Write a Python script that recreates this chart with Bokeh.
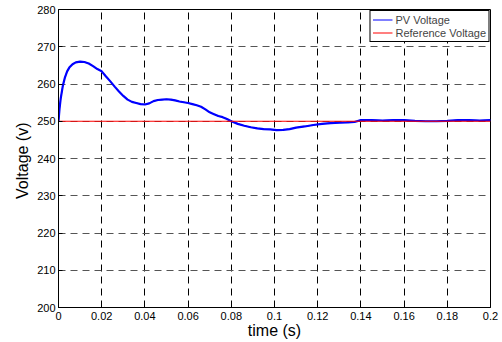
from bokeh.plotting import figure
from bokeh.models import FixedTicker, Legend, LegendItem, Range1d
from bokeh.embed import file_html
from bokeh.resources import INLINE

# time (s)
t = [0, 0.0005, 0.001, 0.002, 0.003, 0.004, 0.005, 0.0065, 0.008, 0.010,
     0.012, 0.014, 0.016, 0.018, 0.020, 0.022, 0.024, 0.026, 0.028, 0.030,
     0.032, 0.034, 0.036, 0.038, 0.040, 0.042, 0.044, 0.046, 0.048, 0.050,
     0.052, 0.054, 0.056, 0.058, 0.060, 0.062, 0.064, 0.066, 0.068, 0.070,
     0.072, 0.074, 0.076, 0.078, 0.080, 0.083, 0.086, 0.089, 0.092, 0.095,
     0.098, 0.101, 0.104, 0.107, 0.110, 0.114, 0.118, 0.122, 0.126, 0.130,
     0.134, 0.137, 0.140, 0.145, 0.150, 0.155, 0.160, 0.165, 0.170, 0.175,
     0.180, 0.185, 0.190, 0.195, 0.200]
# PV voltage (V)
pv_voltage = [250, 253.5, 256, 259.5, 261.8, 263.4, 264.4, 265.3, 265.8, 266,
              265.9, 265.5, 264.8, 264, 263.4, 262, 260.7, 259.3, 258, 256.8,
              255.8, 255.2, 254.9, 254.6, 254.5, 254.8, 255.4, 255.7, 255.8, 255.9,
              255.8, 255.6, 255.3, 255.1, 254.9, 254.6, 254.3, 253.9, 253.2, 252.4,
              251.9, 251.4, 251.1, 250.6, 250.0, 249.3, 248.8, 248.4, 248.1, 247.9,
              247.8, 247.6, 247.7, 247.9, 248.3, 248.6, 249.0, 249.3, 249.5, 249.6,
              249.7, 249.8, 250.3, 250.3, 250.2, 250.3, 250.3, 250.1, 250.0, 250.0,
              250.1, 250.3, 250.3, 250.2, 250.3]
ref_t = [0, 0.2]
ref_voltage = [250, 250]

x_ticks = [0, 0.02, 0.04, 0.06, 0.08, 0.1, 0.12, 0.14, 0.16, 0.18, 0.2]
x_tick_labels = ["0", "0.02", "0.04", "0.06", "0.08", "0.1", "0.12", "0.14", "0.16", "0.18", "0.2"]
y_ticks = [200, 210, 220, 230, 240, 250, 260, 270, 280]

FONT = "Liberation Sans"

p = figure(width=502, height=342, output_backend="svg", toolbar_location=None,
           x_range=Range1d(0, 0.2), y_range=Range1d(200, 280),
           min_border_left=58, min_border_right=12, min_border_top=9, min_border_bottom=35)
p.background_fill_color = "white"
p.border_fill_color = "white"
p.outline_line_color = "black"
p.outline_line_width = 1

p.xaxis.ticker = FixedTicker(ticks=x_ticks)
p.xaxis.major_label_overrides = {tk: lb for tk, lb in zip(x_ticks, x_tick_labels)}
p.yaxis.ticker = FixedTicker(ticks=y_ticks)

for ax in (p.xaxis[0], p.yaxis[0]):
    ax.axis_line_color = "black"
    ax.major_tick_line_color = "black"
    ax.major_tick_in = 4
    ax.major_tick_out = 0
    ax.minor_tick_line_color = None
    ax.major_label_text_font = FONT
    ax.major_label_text_font_size = "11px"
    ax.major_label_text_color = "black"
    ax.axis_label_text_font = FONT
    ax.axis_label_text_font_style = "normal"
    ax.axis_label_text_color = "black"

p.xaxis.axis_label = "time (s)"
p.xaxis.axis_label_text_font_size = "16px"
p.xaxis.major_label_standoff = 4
p.xaxis.axis_label_standoff = -1
p.yaxis.axis_label = "Voltage  (v)"
p.yaxis.axis_label_text_font_size = "16px"
p.yaxis.major_label_standoff = 3
p.yaxis.axis_label_standoff = 3

p.xgrid.grid_line_color = "black"
p.xgrid.grid_line_dash = "7 5"
p.xgrid.grid_line_width = 1
p.ygrid.grid_line_color = "#555555"
p.ygrid.grid_line_dash = "7 5"
p.ygrid.grid_line_width = 1

# thin line used as the legend swatch; it lies beneath the thick trace
pv_leg = p.line(t, pv_voltage, line_color="#0000ff", line_width=1)
pv = p.line(t, pv_voltage, line_color="#0000ff", line_width=2.2)
rf = p.line(ref_t, ref_voltage, line_color="#ff0000", line_width=1.2)

legend = Legend(items=[LegendItem(label="PV Voltage", renderers=[pv_leg]),
                       LegendItem(label="Reference Voltage", renderers=[rf])],
                location="top_right", margin=1, padding=2, spacing=0,
                label_text_font=FONT, label_text_font_size="11px",
                label_height=13, glyph_height=13, glyph_width=20, label_standoff=3,
                border_line_color="black", border_line_width=1, border_line_alpha=1,
                background_fill_color="white", background_fill_alpha=1)
p.add_layout(legend)

open("out.html", "w").write(file_html(p, INLINE))
